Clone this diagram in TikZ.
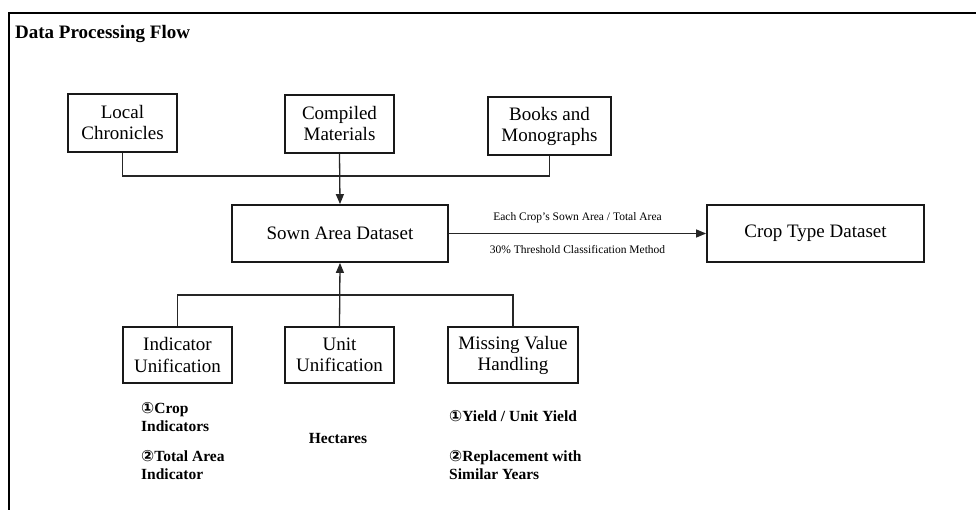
\documentclass[tikz,border=0pt]{standalone}
\usepackage{fontspec}
\setmainfont{Liberation Serif}
\newfontfamily\symfont{DejaVu Sans}
\usetikzlibrary{arrows.meta}
\newcommand{\cOne}{{\symfont\char"2460}}
\newcommand{\cTwo}{{\symfont\char"2461}}
\begin{document}
\begin{tikzpicture}[x=1pt,y=-1pt,
  box/.style={draw=black!90, line width=1.8pt, fill=white, inner sep=0pt, align=center,
    font=\fontsize{19}{21}\selectfont},
  conn/.style={line width=1.3pt, draw=black!85},
  arr/.style={conn, -{Triangle[length=10pt,width=8pt]}},
  ann/.style={anchor=base west, inner sep=0pt, align=left, font=\fontsize{15.5}{18}\selectfont\bfseries},
  lbl/.style={inner sep=0pt, font=\fontsize{11.5}{13}\selectfont}
]
\useasboundingbox (0,0) rectangle (976,510);
\draw[line width=2pt] (980,13) -- (9,13) -- (9,514);
\node[anchor=base west, inner sep=0pt, font=\fontsize{19}{21}\selectfont\bfseries] (title) at (15,39) {Data Processing Flow};

\node[box, minimum width=109pt, minimum height=58pt] (local) at (122.5,123) {Local\\Chronicles};
\node[box, minimum width=109pt, minimum height=58pt] (comp) at (339.5,124) {Compiled\\Materials};
\node[box, minimum width=123pt, minimum height=58pt] (books) at (549.5,126) {Books and\\Monographs};

\node[box, minimum width=216pt, minimum height=57pt] (sown) at (340,233.5) {Sown Area Dataset};
\node[box, minimum width=217pt, minimum height=57pt] (crop) at (815.5,233.5) {Crop Type Dataset};

\node[box, minimum width=109pt, minimum height=56pt] (ind) at (177.5,355) {Indicator\\Unification};
\node[box, minimum width=109pt, minimum height=56pt] (unit) at (339.5,355) {Unit\\Unification};
\node[box, minimum width=130pt, minimum height=56pt] (miss) at (513,355) {Missing Value\\Handling};

\coordinate (tb) at (340,176);
\coordinate (bb) at (340,295);
\draw[conn] (local.south) |- (tb) -| (books.south);
\draw[arr] (comp.south) -- (sown.north);
\draw[conn] (ind.north) |- (bb) -| (miss.north);
\draw[arr] (unit.north) -- (sown.south);

\draw[arr] (sown.east) -- (crop.west);
\node[lbl] (l1) at (577.5,218) {Each Crop's Sown Area / Total Area};
\node[lbl] (l2) at (577.5,250) {30\% Threshold Classification Method};

\node[ann] (a1) at (141,431) {\cOne Crop\\Indicators};
\node[ann] (a2) at (141,479) {\cTwo Total Area\\Indicator};
\node[ann, anchor=base] (a3) at (338,443) {Hectares};
\node[ann] (a4) at (449,421) {\cOne Yield / Unit Yield};
\node[ann] (a5) at (449,479) {\cTwo Replacement with\\Similar Years};
\end{tikzpicture}
\end{document}
